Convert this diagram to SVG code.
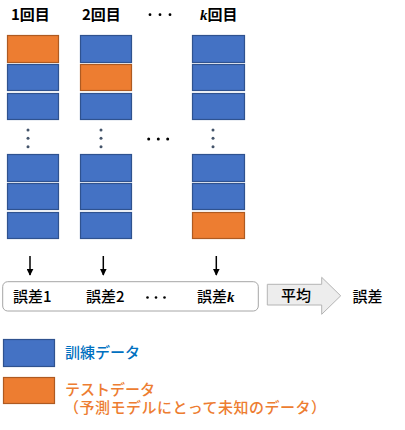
<svg xmlns="http://www.w3.org/2000/svg" width="405" height="430" viewBox="0 0 405 430">
<defs>
<style>
.b{fill:#4472C4;stroke:#2F528F;stroke-width:1.2}
.o{fill:#ED7D31;stroke:#AE5A21;stroke-width:1.2}
.t{font-family:"Noto Sans CJK JP","Noto Sans",sans-serif;font-size:15px;font-weight:500;fill:#000}
.h{font-weight:bold}
.vd{fill:#44546A}
.hd{fill:#000}
.c{stroke:#000;stroke-width:1.5;fill:none}
</style>
<marker id="ah" viewBox="0 0 10 10" refX="9" refY="5" markerWidth="7" markerHeight="7" markerUnits="userSpaceOnUse" orient="auto"><path d="M0,0L10,5L0,10z" fill="#000"/></marker>
</defs>
<rect width="405" height="430" fill="#fff"/>

<g id="col1">
<text class="t h" x="11" y="20">1回目</text>
<rect class="o" x="7.5" y="35.5" width="51" height="27"/>
<rect class="b" x="7.5" y="64.5" width="51" height="26"/>
<rect class="b" x="7.5" y="93.5" width="51" height="26"/>
<circle class="vd" cx="28" cy="130" r="1.5"/><circle class="vd" cx="28" cy="138.3" r="1.5"/><circle class="vd" cx="28" cy="146.7" r="1.5"/>
<rect class="b" x="7.5" y="154.5" width="51" height="27"/>
<rect class="b" x="7.5" y="183.5" width="51" height="26"/>
<rect class="b" x="7.5" y="212.5" width="51" height="26"/>
</g>

<g id="col2">
<text class="t h" x="82" y="20">2回目</text>
<rect class="b" x="80.5" y="35.5" width="51" height="27"/>
<rect class="o" x="80.5" y="64.5" width="51" height="26"/>
<rect class="b" x="80.5" y="93.5" width="51" height="26"/>
<circle class="vd" cx="101" cy="130" r="1.5"/><circle class="vd" cx="101" cy="138.3" r="1.5"/><circle class="vd" cx="101" cy="146.7" r="1.5"/>
<rect class="b" x="80.5" y="154.5" width="51" height="27"/>
<rect class="b" x="80.5" y="183.5" width="51" height="26"/>
<rect class="b" x="80.5" y="212.5" width="51" height="26"/>
</g>

<g id="dots">
<circle class="hd" cx="150" cy="14.7" r="1.4"/><circle class="hd" cx="160" cy="14.7" r="1.4"/><circle class="hd" cx="170" cy="14.7" r="1.4"/>
<circle class="hd" cx="148.7" cy="139" r="1.5"/><circle class="hd" cx="158.3" cy="139" r="1.5"/><circle class="hd" cx="167.7" cy="139" r="1.5"/>
</g>

<g id="colk">
<text class="t h" x="200" y="20"><tspan font-family="'Liberation Serif',serif" font-style="italic">k</tspan>回目</text>
<rect class="b" x="192.5" y="35.5" width="52" height="27"/>
<rect class="b" x="192.5" y="64.5" width="52" height="26"/>
<rect class="b" x="192.5" y="93.5" width="52" height="26"/>
<circle class="vd" cx="213" cy="130" r="1.5"/><circle class="vd" cx="213" cy="138.3" r="1.5"/><circle class="vd" cx="213" cy="146.7" r="1.5"/>
<rect class="b" x="192.5" y="154.5" width="52" height="27"/>
<rect class="b" x="192.5" y="183.5" width="52" height="26"/>
<rect class="o" x="192.5" y="212.5" width="52" height="26"/>
</g>

<g id="connectors">
<line class="c" x1="30" y1="256" x2="30" y2="275" marker-end="url(#ah)"/>
<line class="c" x1="103.3" y1="256" x2="103.3" y2="275" marker-end="url(#ah)"/>
<line class="c" x1="216.3" y1="256" x2="216.3" y2="275" marker-end="url(#ah)"/>
</g>

<g id="errors">
<rect x="2.7" y="281.7" width="255.6" height="29.3" rx="5" fill="#fff" stroke="#A6A6A6" stroke-width="1"/>
<text class="t" x="13" y="302">誤差1</text>
<text class="t" x="86" y="302">誤差2</text>
<circle class="hd" cx="147.5" cy="297.5" r="1.3"/><circle class="hd" cx="156" cy="297.5" r="1.3"/><circle class="hd" cx="164.5" cy="297.5" r="1.3"/>
<text class="t" x="197" y="302">誤差<tspan font-family="'Liberation Serif',serif" font-style="italic" font-weight="bold">k</tspan></text>
</g>

<g id="average">
<path d="M267.3,284.3H321.7V277.3L340.7,295.8L321.7,314.3V305H267.3Z" fill="#EDEDED" stroke="#B4B4B4" stroke-width="1"/>
<text class="t" x="296" y="301" text-anchor="middle">平均</text>
</g>

<g id="result">
<text class="t" x="352.5" y="302">誤差</text>
</g>

<g id="legend-train">
<rect class="b" x="3.5" y="339.5" width="51" height="27"/>
<text class="t" x="65" y="358" style="fill:#0070C0">訓練データ</text>
</g>

<g id="legend-test">
<rect class="o" x="3.5" y="377.5" width="51" height="26"/>
<text class="t" x="65" y="394.5" style="fill:#ED7D31">テストデータ</text>
<text class="t" x="64" y="412.5" textLength="262" lengthAdjust="spacing" style="fill:#ED7D31">（予測モデルにとって未知のデータ）</text>
</g>
</svg>
